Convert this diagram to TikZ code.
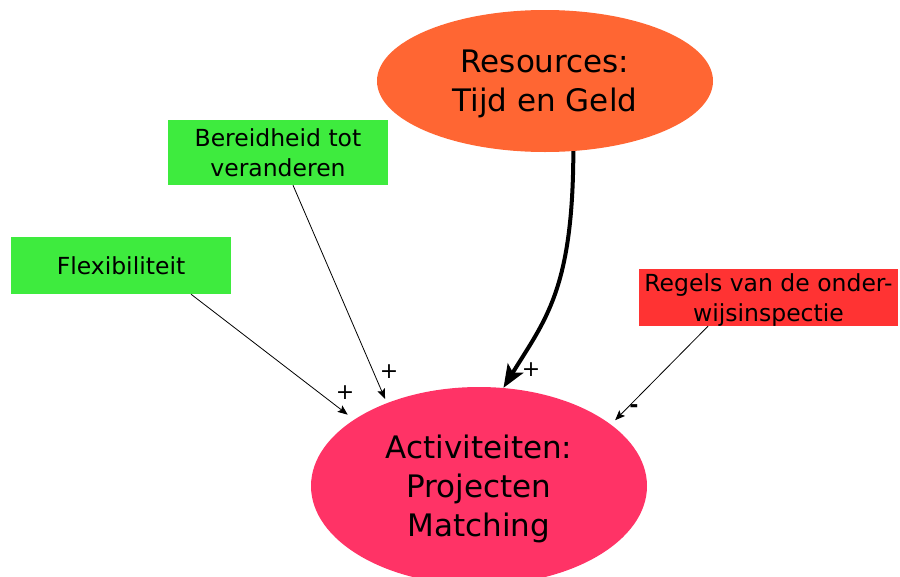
\documentclass[tikz,border=0pt]{standalone}
\usepackage{fontspec}
\setmainfont{DejaVu Sans}
\usetikzlibrary{shapes.geometric,arrows.meta,calc}
\definecolor{resorange}{RGB}{255,102,51}
\definecolor{actpink}{RGB}{255,51,102}
\definecolor{boxgreen}{RGB}{62,235,62}
\definecolor{boxred}{RGB}{255,51,51}
\begin{document}
\begin{tikzpicture}[x=1pt,y=-1pt,
  bigell/.style={ellipse, inner sep=0pt, align=center, text depth=0pt, font=\fontsize{31}{39}\selectfont},
  smallbox/.style={rectangle, inner sep=0pt, align=center, text depth=0pt, font=\fontsize{23.5}{29.5}\selectfont},
  thinarr/.style={-{Stealth[length=10pt,width=8pt,inset=2pt]}, line width=0.8pt},
  thickarr/.style={-{Stealth[length=23pt,width=18pt,inset=5pt]}, line width=4pt},
  sign/.style={font=\fontsize{22}{26}\selectfont, inner sep=0pt}]
\useasboundingbox (0,0) rectangle (900,576);
\node[bigell, fill=resorange, minimum width=336pt, minimum height=142pt] (res) at (545,81) {Resources:\\Tijd en Geld};
\node[bigell, fill=actpink, minimum width=336pt, minimum height=198pt] (act) at (479,486) {Activiteiten:\\Projecten\\Matching};
\node[smallbox, fill=boxgreen, minimum width=220pt, minimum height=65pt] (bereid) at (278,152.5) {Bereidheid tot\\veranderen};
\node[smallbox, fill=boxgreen, minimum width=220pt, minimum height=57pt] (flex) at (121,265.5) {Flexibiliteit};
\node[smallbox, fill=boxred, minimum width=259pt, minimum height=57pt] (regels) at (768.5,297.5) {Regels van de onder-\\wijsinspectie};
\draw[thinarr, shorten >=8pt] ($(flex.south)+(70,0)$) -- (act.152.3);
\draw[thinarr, shorten >=4.5pt] ($(bereid.south)+(15,0)$) -- (act.138.1);
\draw[thinarr, shorten >=6pt] ($(regels.south)+(-60.5,0)$) -- (act.25.85);
\draw[thickarr] (res.-68.2) .. controls (573,290) and (545,320) .. (act.76.8);
\node[sign] (s1) at (345,393) {+};
\node[sign] (s2) at (389,372) {+};
\node[sign] (s3) at (531,370) {+};
\node[sign] (s4) at (634,409) {\textbf{-}};
\end{tikzpicture}
\end{document}
